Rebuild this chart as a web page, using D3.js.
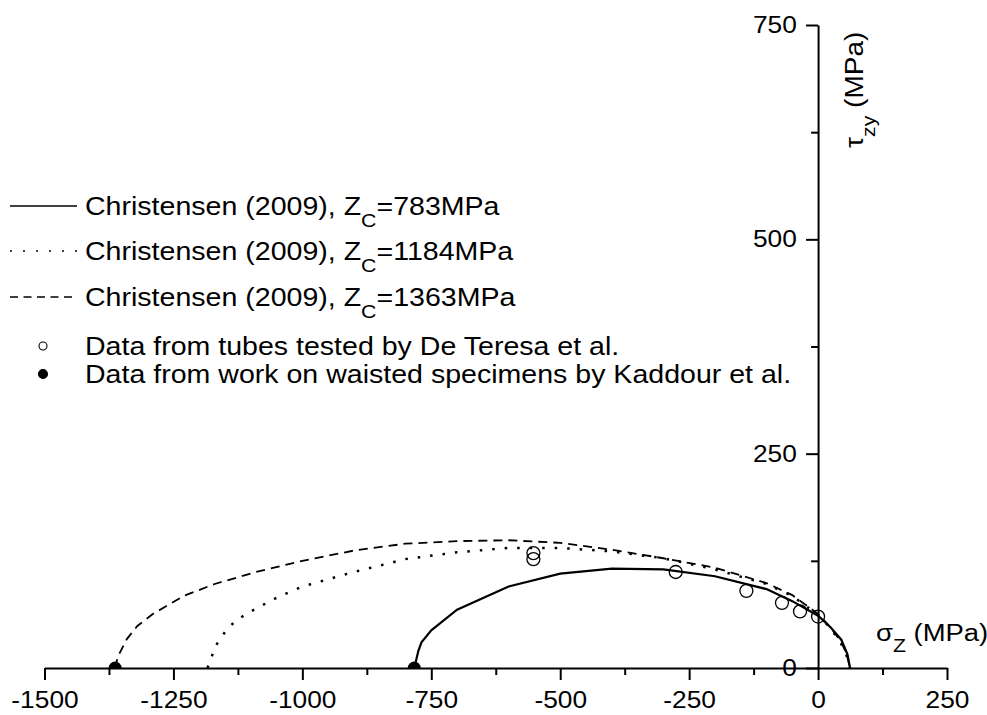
<!DOCTYPE html>
<html lang="en">
<head>
    <meta charset="UTF-8">
    <title>Christensen failure envelopes</title>
    <script src="https://d3js.org/d3.v7.min.js"></script>
    <style>
        body, html {
            margin: 0;
            background: #fff;
            overflow: hidden;
        }
        svg {
            display: block;
            font-family: 'Liberation Sans', Arial, sans-serif;
        }
    </style>
</head>
<body>
<svg id="chart" width="987" height="715"></svg>

<script>
    // Christensen (2009) envelopes, [sigma_z, tau_zy] in MPa
    const curve783 = [[-783, 0], [-775, 20], [-769, 30], [-750, 44], [-700, 68], [-600, 95], [-500, 110],
        [-400, 116], [-300, 115], [-200, 107], [-100, 92], [-50, 78], [0, 61], [25, 47], [45, 33], [57, 16], [62, 0]];
    const curve1184 = [[-1184, 0], [-1176, 13], [-1168, 26], [-1150, 42], [-1130, 55], [-1100, 66], [-1050, 82],
        [-1000, 95], [-900, 112], [-800, 127], [-700, 135], [-600, 140], [-500, 140], [-400, 136], [-300, 128],
        [-200, 115], [-100, 98], [-50, 84], [0, 62], [25, 46], [45, 28], [55, 15], [62, 0]];
    const curve1363 = [[-1363, 0], [-1358, 13], [-1340, 34], [-1320, 49], [-1290, 63], [-1230, 84], [-1170, 98],
        [-1090, 112], [-1000, 125], [-900, 137], [-800, 145], [-700, 148], [-600, 149], [-500, 146], [-400, 138],
        [-300, 128], [-200, 117], [-100, 99], [-50, 85], [0, 63], [25, 47], [45, 30], [55, 17], [62, 0]];

    // De Teresa et al. tubes (open) and Kaddour et al. waisted specimens (filled)
    const tubeData = [[-552, 134], [-552, 127], [-276, 112], [-139, 90], [-70, 76], [-35, 66], [0, 60]];
    const waistedData = [[-1363, 0], [-783, 0]];

    const xMajor = [-1500, -1250, -1000, -750, -500, -250, 0, 250];
    const xMinor = [-1375, -1125, -875, -625, -375, -125, 125];
    const yMajor = [0, 250, 500, 750];
    const yMinor = [125, 375, 625];

    const legendLabels = [
        ['Christensen (2009), Z', 'C', '=783MPa'],
        ['Christensen (2009), Z', 'C', '=1184MPa'],
        ['Christensen (2009), Z', 'C', '=1363MPa'],
        ['Data from tubes tested by De Teresa et al.'],
        ['Data from work on waisted specimens by Kaddour et al.']
    ];

    const stretch = 'scale(1.12,1)';   // text in the original export is wide
    const svg = d3.select('#chart');

    const x = d3.scaleLinear().domain([-1500, 250]).range([44.5, 947]);
    const y = d3.scaleLinear().domain([0, 750]).range([668, 25]);

    svg.append('clipPath').attr('id', 'plot-clip')
        .append('rect')
        .attr('x', x(-1500)).attr('y', y(750))
        .attr('width', x(250) - x(-1500)).attr('height', y(0) - y(750));

    // axes cross at the origin
    const xAxisG = svg.append('g').attr('transform', `translate(0,${y(0)})`);
    xAxisG.append('g')
        .call(d3.axisBottom(x).tickValues(xMinor).tickSize(7).tickSizeOuter(0).tickFormat(''))
        .call(g => g.select('.domain').remove());
    xAxisG.append('g')
        .call(d3.axisBottom(x).tickValues(xMajor).tickSize(12).tickSizeOuter(0).tickPadding(11)
            .tickFormat(d => String(d)));

    const yAxisG = svg.append('g').attr('transform', `translate(${x(0)},0)`);
    yAxisG.append('g')
        .call(d3.axisLeft(y).tickValues(yMinor).tickSize(7).tickSizeOuter(0).tickFormat(''))
        .call(g => g.select('.domain').remove());
    yAxisG.append('g')
        .call(d3.axisLeft(y).tickValues(yMajor).tickSize(12).tickSizeOuter(0).tickPadding(7)
            .tickFormat(d => String(d)));

    svg.selectAll('.domain, .tick line').attr('stroke', '#000').attr('stroke-width', 2);
    svg.selectAll('.tick text')
        .attr('font-size', 23.5)
        .attr('font-family', "'Liberation Sans', Arial, sans-serif")
        .attr('fill', '#000')
        .attr('transform', stretch);

    // curves
    const line = d3.line().x(d => x(d[0])).y(d => y(d[1]));
    const plot = svg.append('g').attr('clip-path', 'url(#plot-clip)');
    const styles = [
        {data: curve783, dash: null, width: 2.2},
        {data: curve1184, dash: '2.5,10', width: 2.5},
        {data: curve1363, dash: '9,6', width: 1.8}
    ];
    styles.forEach(s => {
        plot.append('path')
            .attr('d', line(s.data))
            .attr('fill', 'none')
            .attr('stroke', '#000')
            .attr('stroke-width', s.width)
            .attr('stroke-dasharray', s.dash);
    });

    plot.selectAll('circle.tube').data(tubeData).join('circle')
        .attr('class', 'tube')
        .attr('cx', d => x(d[0])).attr('cy', d => y(d[1])).attr('r', 6.5)
        .attr('fill', 'none').attr('stroke', '#000').attr('stroke-width', 1.3);
    plot.selectAll('circle.waisted').data(waistedData).join('circle')
        .attr('class', 'waisted')
        .attr('cx', d => x(d[0])).attr('cy', d => y(d[1])).attr('r', 6.5)
        .attr('fill', '#000');

    // axis titles
    const xTitle = svg.append('text')
        .attr('transform', `translate(876,641) ${stretch}`)
        .attr('font-size', 24.5);
    xTitle.append('tspan').text('σ');
    xTitle.append('tspan').attr('dy', 11).attr('font-size', 19).text('Z');
    xTitle.append('tspan').attr('dy', -11).text(' (MPa)');

    const yTitle = svg.append('text')
        .attr('transform', `translate(863,148) rotate(-90) ${stretch}`)
        .attr('font-size', 25);
    yTitle.append('tspan').text('τ');
    yTitle.append('tspan').attr('dy', 12).attr('font-size', 19).text('zy');
    yTitle.append('tspan').attr('dy', -12).text(' (MPa)');

    // legend
    const rowY = [206, 251, 297, 346, 374];
    const legend = svg.append('g');
    legendLabels.forEach((parts, i) => {
        const g = legend.append('g').attr('transform', `translate(0,${rowY[i]})`);
        if (i < 3) {
            g.append('line')
                .attr('x1', 10).attr('x2', 77).attr('y1', 0).attr('y2', 0)
                .attr('stroke', '#000').attr('stroke-width', 1.6)
                .attr('stroke-dasharray', i === 1 ? '2,11' : '8,5.5');
            if (i === 0) g.select('line').attr('stroke-dasharray', null);
        } else {
            g.append('circle')
                .attr('cx', 43).attr('cy', 0).attr('r', i === 3 ? 4 : 4.5)
                .attr('fill', i === 3 ? 'none' : '#000')
                .attr('stroke', '#000').attr('stroke-width', 1.1);
        }
        const t = g.append('text')
            .attr('transform', `translate(85,9) ${stretch}`)
            .attr('font-size', 25.5);
        t.append('tspan').text(parts[0]);
        if (parts.length > 1) {
            t.append('tspan').attr('dy', 12).attr('font-size', 19).text(parts[1]);
            t.append('tspan').attr('dy', -12).text(parts[2]);
        }
    });
</script>
</body>
</html>
